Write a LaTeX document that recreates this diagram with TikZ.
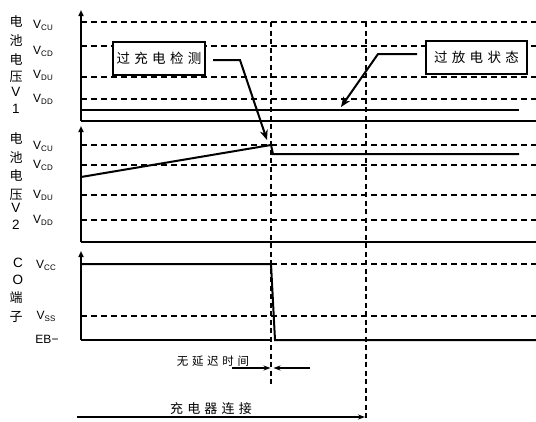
\documentclass[tikz,border=0pt]{standalone}
\usepackage{fontspec}
\setmainfont{Liberation Sans}
\newfontfamily\cjk{Noto Sans CJK SC}
\newfontfamily\cjks[LetterSpace=32]{Noto Sans CJK SC}
\usetikzlibrary{arrows.meta}
\newcommand\vsub[1]{V\raisebox{-2pt}{\fontsize{8pt}{8pt}\selectfont #1}}
\begin{document}
\begin{tikzpicture}[x=1pt,y=-1pt,
  dline/.style={line width=1.7pt, dash pattern=on 6pt off 4pt},
  vdline/.style={line width=1.7pt, dash pattern=on 5pt off 3.5pt},
  sig/.style={line width=2pt},
  axis/.style={line width=2pt},
  axarrow/.style={line width=2pt, -{Triangle[length=6pt,width=5pt]}},
  callout/.style={line width=2pt, -{Stealth[length=10pt,width=8pt]}},
  harrow/.style={line width=1.4pt, -{Stealth[length=7pt,width=5pt]}},
  lbox/.style={draw, fill=white, line width=1.3pt, minimum width=92pt, minimum height=33pt, inner sep=0pt, font=\cjks\fontsize{13.5pt}{14pt}\selectfont},
  lab/.style={inner sep=0pt, font=\cjk\fontsize{13pt}{13pt}\selectfont},
  latl/.style={inner sep=0pt, font=\fontsize{13.5pt}{14pt}\selectfont},
  vl/.style={inner sep=0pt, font=\fontsize{12pt}{12pt}\selectfont},
  ctext/.style={inner sep=0pt, font=\cjks\fontsize{11.5pt}{12pt}\selectfont}
]
\useasboundingbox (0,0) rectangle (536,421);

% ---------- horizontal dashed reference lines ----------
\foreach \y in {22,46,77,99, 145,165,195,220, 264,316}
  \draw[dline] (81,\y) -- (536,\y);

% ---------- vertical dashed lines ----------
\coordinate (t1top) at (271,22);
\coordinate (t1bot) at (271,386);
\coordinate (t2top) at (366,22);
\coordinate (t2bot) at (366,421);
\draw[vdline] (t1top) -- (t1bot);
\draw[vdline] (t2top) -- (t2bot);

% ---------- axes ----------
\coordinate (o1) at (81,121); \coordinate (a1) at (81,10);
\coordinate (o2) at (81,242); \coordinate (a2) at (81,126);
\coordinate (o3) at (81,340); \coordinate (a3) at (81,251);
\draw[axarrow] (o1) -- (a1);
\draw[axarrow] (o2) -- (a2);
\draw[axarrow] (o3) -- (a3);
\draw[axis] (o1) -- (536,121);
\draw[axis] (o2) -- (536,242);
\draw[line width=1.4pt] (o3) -- (271,340);

% ---------- signals ----------
\draw[sig] (81,110) -- (519,110);
\draw[sig] (81,177) -- (271,145) -- (273,154) -- (519,154);
\draw[sig] (81,264) -- (271,264) -- (275,340) -- (536,340);

% ---------- callout boxes ----------
\node[lbox] (b1) at (159,58.5) {过充电检测\hspace{3pt}};
\node[lbox, minimum width=101pt] (b2) at (476.5,57.5) {过放电状态\hspace{10pt}};
\coordinate (b1s) at (213,60);
\coordinate (b1k) at (240,60);
\coordinate (b1t) at (267,140);
\draw[callout] (b1s) -- (b1k) -- (b1t);
\coordinate (b2s) at (417,54);
\coordinate (b2k) at (378,54);
\coordinate (b2t) at (341,107);
\draw[callout] (b2s) -- (b2k) -- (b2t);

% ---------- delay arrows ----------
\coordinate (dl) at (232,368); \coordinate (dlt) at (270.5,368);
\coordinate (dr) at (310,368); \coordinate (drt) at (273.5,368);
\draw[harrow] (dl) -- (dlt);
\draw[harrow] (dr) -- (drt);
\node[ctext] (nodelay) at (213,361) {无延迟时间};

\coordinate (cs) at (77,417); \coordinate (ce) at (365,417);
\draw[harrow] (cs) -- (ce);
\node[ctext, font=\cjks\fontsize{13pt}{13pt}\selectfont] (charger) at (211,409) {充电器连接};

% ---------- left labels panel 1 ----------
\node[lab] (p1a) at (16,21) {电};
\node[lab] (p1b) at (16,40) {池};
\node[lab] (p1c) at (16,59) {电};
\node[lab] (p1d) at (16,77) {压};
\node[latl] (p1e) at (16,92) {V};
\node[latl] (p1f) at (16,109) {1};
\node[vl] (v1a) at (43,25) {\vsub{CU}};
\node[vl] (v1b) at (43,51) {\vsub{CD}};
\node[vl] (v1c) at (43,75) {\vsub{DU}};
\node[vl] (v1d) at (43,99) {\vsub{DD}};

% ---------- left labels panel 2 ----------
\node[lab] (p2a) at (16,138) {电};
\node[lab] (p2b) at (16,157) {池};
\node[lab] (p2c) at (16,175) {电};
\node[lab] (p2d) at (16,195) {压};
\node[latl] (p2e) at (16,208) {V};
\node[latl] (p2f) at (16,225) {2};
\node[vl] (v2a) at (43,146) {\vsub{CU}};
\node[vl] (v2b) at (43,165) {\vsub{CD}};
\node[vl] (v2c) at (43,195) {\vsub{DU}};
\node[vl] (v2d) at (43,220) {\vsub{DD}};

% ---------- left labels panel 3 ----------
\node[latl] (p3a) at (18,263) {C};
\node[latl] (p3b) at (18,280) {O};
\node[lab] (p3c) at (16,298) {端};
\node[lab] (p3d) at (16,317) {子};
\node[vl] (v3a) at (46,265) {\vsub{CC}};
\node[vl] (v3b) at (46,316) {\vsub{SS}};
\node[vl] (v3c) at (47,339) {EB−};
\end{tikzpicture}
\end{document}
